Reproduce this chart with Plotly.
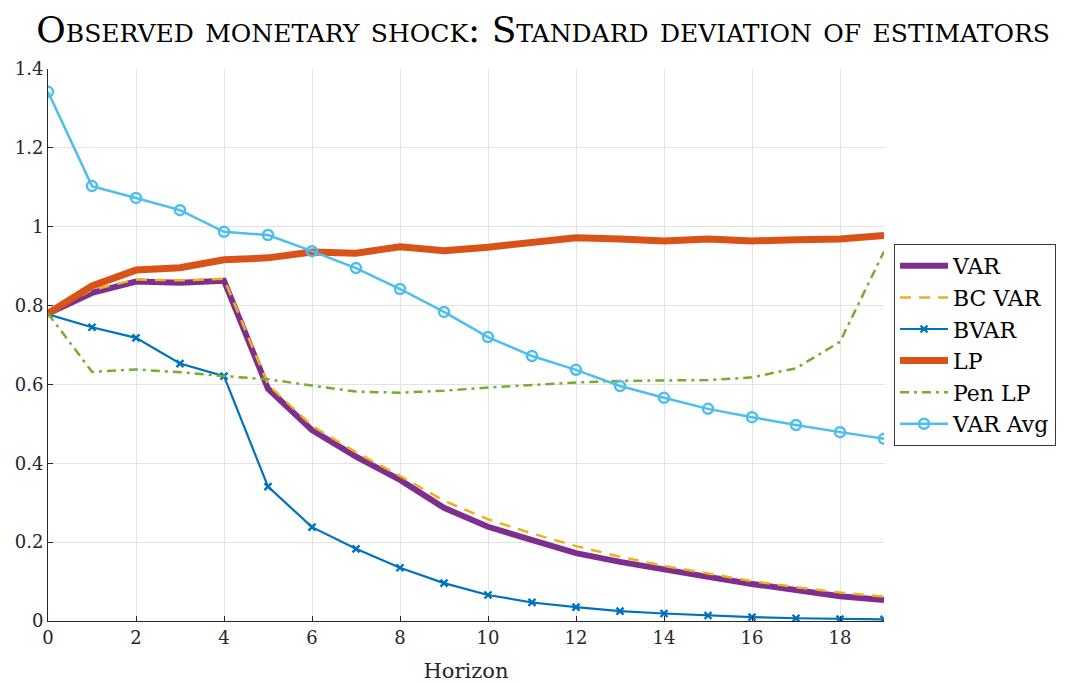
import plotly.graph_objects as go

horizon = list(range(20))
var = [0.780, 0.832, 0.861, 0.858, 0.863, 0.589, 0.484, 0.417, 0.358, 0.287, 0.239, 0.205, 0.172,
       0.150, 0.130, 0.112, 0.094, 0.077, 0.063, 0.053]
bc_var = [0.780, 0.840, 0.866, 0.864, 0.868, 0.600, 0.495, 0.428, 0.368, 0.305, 0.258, 0.222, 0.190,
          0.163, 0.140, 0.120, 0.101, 0.086, 0.072, 0.062]
bvar = [0.778, 0.745, 0.718, 0.653, 0.621, 0.341, 0.238, 0.183, 0.135, 0.096, 0.066, 0.047, 0.035,
        0.025, 0.019, 0.014, 0.010, 0.007, 0.005, 0.004]
lp = [0.780, 0.850, 0.890, 0.896, 0.916, 0.921, 0.936, 0.933, 0.949, 0.939, 0.948, 0.958, 0.972,
      0.969, 0.964, 0.969, 0.964, 0.967, 0.969, 0.978]
pen_lp = [0.780, 0.632, 0.638, 0.631, 0.621, 0.613, 0.597, 0.582, 0.579, 0.584, 0.592, 0.599, 0.605,
          0.609, 0.610, 0.611, 0.618, 0.641, 0.708, 0.937]
var_avg = [1.342, 1.103, 1.073, 1.042, 0.987, 0.979, 0.938, 0.895, 0.842, 0.784, 0.720, 0.672, 0.637,
           0.596, 0.566, 0.538, 0.517, 0.497, 0.479, 0.462]

x_ticks = list(range(0, 19, 2))
y_ticks = [0, 0.2, 0.4, 0.6, 0.8, 1.0, 1.2, 1.4]
y_tick_text = ["0", "0.2", "0.4", "0.6", "0.8", "1", "1.2", "1.4"]

FONT = "DejaVu Serif"

fig = go.Figure()
fig.add_trace(go.Scatter(x=horizon, y=var, name="VAR", mode="lines",
                         line=dict(color="#7E2F8E", width=6)))
fig.add_trace(go.Scatter(x=horizon, y=bc_var, name="BC VAR", mode="lines",
                         line=dict(color="#EDB120", width=2.5, dash="11px,8px")))
fig.add_trace(go.Scatter(x=horizon, y=bvar, name="BVAR", mode="lines+markers",
                         line=dict(color="#0072BD", width=2.2),
                         marker=dict(symbol="x-thin-open", size=7,
                                     line=dict(color="#0072BD", width=2.4))))
fig.add_trace(go.Scatter(x=horizon, y=lp, name="LP", mode="lines",
                         line=dict(color="#D95319", width=7)))
fig.add_trace(go.Scatter(x=horizon, y=pen_lp, name="Pen LP", mode="lines",
                         line=dict(color="#77AC30", width=2.5, dash="9px,5px,3px,5px")))
fig.add_trace(go.Scatter(x=horizon, y=var_avg, name="VAR Avg", mode="lines+markers",
                         line=dict(color="#4DBEEE", width=2.5),
                         marker=dict(symbol="circle-open", size=10,
                                     line=dict(color="#4DBEEE", width=2.5))))

fig.update_layout(
    width=1068, height=683,
    margin=dict(l=40, r=192, t=61, b=70),
    paper_bgcolor="white", plot_bgcolor="white",
    font=dict(family=FONT, size=18, color="#262626"),
    title=dict(text="Observed monetary shock: Standard deviation of estimators",
               xref="container", x=0.501, xanchor="center", y=0.968, yanchor="middle",
               font=dict(family=FONT, size=36, color="black", variant="small-caps")),
    legend=dict(x=1.012, y=0.683, xanchor="left", yanchor="top",
                bordercolor="#3a3a3a", borderwidth=1, bgcolor="white",
                font=dict(family=FONT, size=22, color="black"),
                tracegroupgap=0, itemwidth=48),
    showlegend=True,
)
fig.update_xaxes(range=[0, 19], tickvals=x_ticks, ticks="inside", ticklen=5, tickcolor="#262626",
                 showline=True, linecolor="#262626", linewidth=1, mirror=False, automargin=False,
                 showgrid=True, gridcolor="#e3e3e3", gridwidth=1, zeroline=False,
                 title=dict(text="Horizon", font=dict(family=FONT, size=21, color="#262626"), standoff=16),
                 tickfont=dict(family=FONT, size=18, color="#262626"))
fig.update_yaxes(range=[0, 1.4], tickvals=y_ticks, ticktext=y_tick_text, ticks="inside", ticklen=5,
                 tickcolor="#262626", showline=True, linecolor="#262626", linewidth=1, mirror=False,
                 automargin=False,
                 showgrid=True, gridcolor="#e3e3e3", gridwidth=1, zeroline=False,
                 tickfont=dict(family=FONT, size=18, color="#262626"))

fig.write_html("out.html")
